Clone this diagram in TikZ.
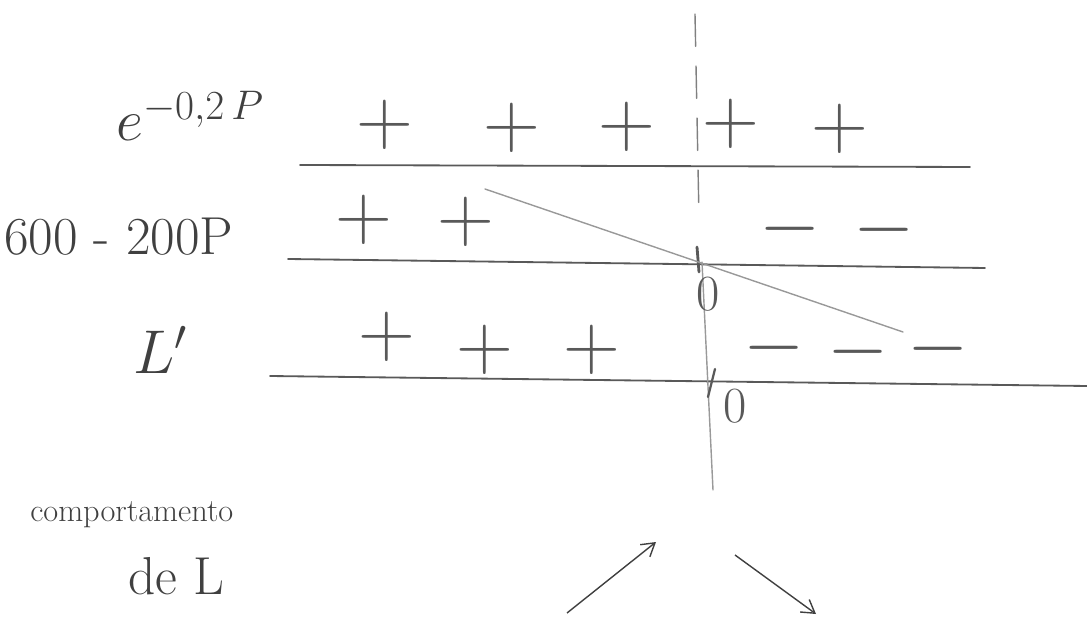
\RequirePackage{fix-cm}
\documentclass[tikz,border=0pt]{standalone}
\usepackage{amsmath,amssymb}
\usepackage{xcolor}
\usepackage{tikz}
\usetikzlibrary{arrows.meta,positioning}

\begin{document}
\begin{tikzpicture}[
    x=0.025cm, y=-0.025cm,
    pencil/.style={draw=black!65, line width=1.3pt, line cap=round},
    faint/.style={draw=black!40, line width=1pt, line cap=round},
    sign/.style={font=\fontsize{56}{56}\selectfont, text=black!65, inner sep=0pt},
    zero/.style={font=\fontsize{36}{36}\selectfont, text=black!65, inner sep=0pt},
    lbl/.style={font=\fontsize{42}{46}\selectfont, text=black!75, inner sep=0pt},
    arrow/.style={-{Straight Barb[length=9pt,width=11pt]}, draw=black!75, line width=1pt}
]
\useasboundingbox (0,0) rectangle (1087,629);

% Row labels
\node[lbl] (exp) at (190,116) {$e^{-0{,}2\,P}$};
\node[lbl, font=\fontsize{38}{42}\selectfont, anchor=west] (lin) at (4,237) {600 - 200P};
\node[lbl, font=\fontsize{44}{48}\selectfont] (deriv) at (160,350) {$L'$};
\node[lbl, font=\fontsize{23}{30}\selectfont, anchor=west] (comp) at (30,515) {comportamento};
\node[lbl, font=\fontsize{38}{40}\selectfont, anchor=west] (deL) at (128,576) {de L};

% Axis lines
\coordinate (a1) at (300,165);
\coordinate (b1) at (970,167);
\coordinate (a2) at (288,259);
\coordinate (b2) at (985,268);
\coordinate (a3) at (270,376);
\coordinate (b3) at (1087,386);
\draw[pencil] (a1) -- (b1);
\draw[pencil] (a2) -- (b2);
\draw[pencil] (a3) -- (b3);

% Vertical line at the root
\coordinate (v0) at (695,14);
\coordinate (v1) at (699,218);
\coordinate (v2) at (702,262);
\coordinate (v3) at (713,490);
\draw[pencil, draw=black!50, line width=1pt, dash pattern=on 23pt off 14pt] (v0) -- (v1);
\draw[faint] (v2) -- (v3);

% Ticks
\coordinate (t2a) at (697,247);
\coordinate (t2b) at (699,272);
\coordinate (t3a) at (715,369);
\coordinate (t3b) at (708,397);
\draw[pencil, line width=2pt] (t2a) -- (t2b);
\draw[pencil, line width=1.6pt] (t3a) -- (t3b);

% Decreasing line
\coordinate (d0) at (485,189);
\coordinate (d1) at (903,332);
\draw[faint] (d0) -- (d1);

% Row 1 signs
\node[sign] (p11) at (385,125) {$+$};
\node[sign] (p12) at (512,128) {$+$};
\node[sign] (p13) at (627,127) {$+$};
\node[sign] (p14) at (731,124) {$+$};
\node[sign] (p15) at (840,129) {$+$};

% Row 2 signs
\node[sign] (p21) at (364,220) {$+$};
\node[sign] (p22) at (466,222) {$+$};
\node[sign] (m21) at (790,229) {$-$};
\node[sign] (m22) at (884,230) {$-$};

% Row 3 signs
\node[sign] (p31) at (387,337) {$+$};
\node[sign] (p32) at (485,350) {$+$};
\node[sign] (p33) at (592,350) {$+$};
\node[sign] (m31) at (774,348) {$-$};
\node[sign] (m32) at (858,352) {$-$};
\node[sign] (m33) at (938,349) {$-$};

% Zeros
\node[zero] (z2) at (708,294) {0};
\node[zero] (z3) at (735,406) {0};

% Behaviour arrows
\coordinate (u0) at (567,613);
\coordinate (u1) at (656,542);
\coordinate (w0) at (735,555);
\coordinate (w1) at (816,614);
\draw[arrow] (u0) -- (u1);
\draw[arrow] (w0) -- (w1);

\end{tikzpicture}
\end{document}
